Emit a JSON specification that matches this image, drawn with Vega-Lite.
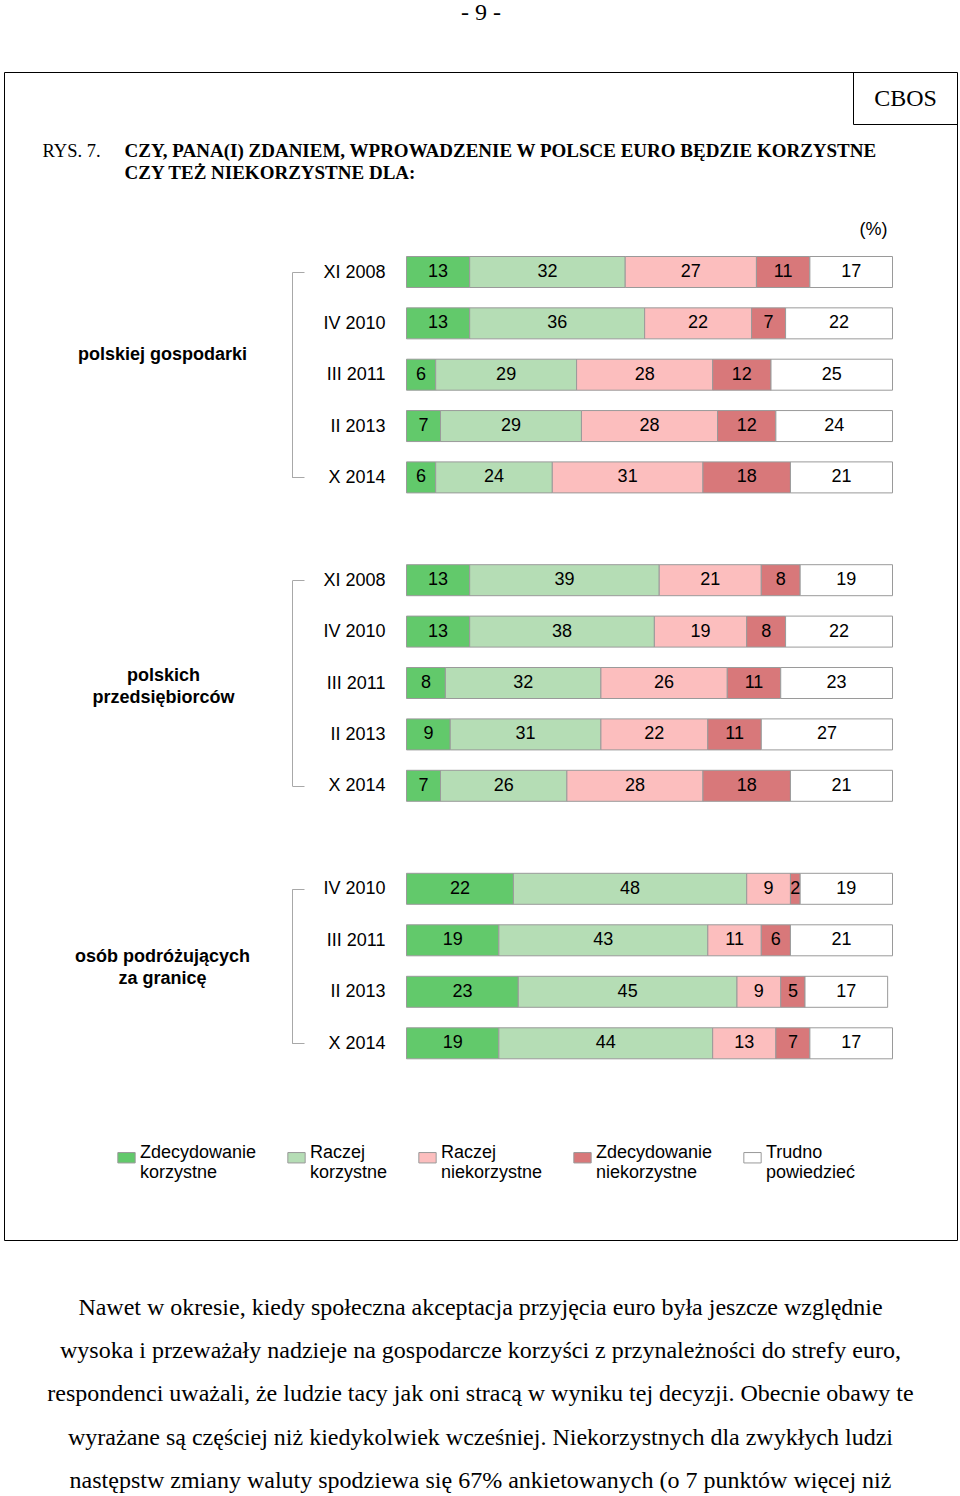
{
  "$schema": "https://vega.github.io/schema/vega-lite/v6.json",
  "width": 953,
  "height": 1168,
  "autosize": {"type": "none"},
  "padding": {"left": 4, "top": 72, "right": 3, "bottom": 256},
  "background": "white",
  "datasets": {
    "ankieta": [
      {"grupa": "polskiej gospodarki", "okres": "XI 2008", "1 Zdecydowanie korzystne": 13, "2 Raczej korzystne": 32, "3 Raczej niekorzystne": 27, "4 Zdecydowanie niekorzystne": 11, "5 Trudno powiedzieć": 17},
      {"grupa": "polskiej gospodarki", "okres": "IV 2010", "1 Zdecydowanie korzystne": 13, "2 Raczej korzystne": 36, "3 Raczej niekorzystne": 22, "4 Zdecydowanie niekorzystne": 7, "5 Trudno powiedzieć": 22},
      {"grupa": "polskiej gospodarki", "okres": "III 2011", "1 Zdecydowanie korzystne": 6, "2 Raczej korzystne": 29, "3 Raczej niekorzystne": 28, "4 Zdecydowanie niekorzystne": 12, "5 Trudno powiedzieć": 25},
      {"grupa": "polskiej gospodarki", "okres": "II 2013", "1 Zdecydowanie korzystne": 7, "2 Raczej korzystne": 29, "3 Raczej niekorzystne": 28, "4 Zdecydowanie niekorzystne": 12, "5 Trudno powiedzieć": 24},
      {"grupa": "polskiej gospodarki", "okres": "X 2014", "1 Zdecydowanie korzystne": 6, "2 Raczej korzystne": 24, "3 Raczej niekorzystne": 31, "4 Zdecydowanie niekorzystne": 18, "5 Trudno powiedzieć": 21},
      {"grupa": "polskich przedsiębiorców", "okres": "XI 2008", "1 Zdecydowanie korzystne": 13, "2 Raczej korzystne": 39, "3 Raczej niekorzystne": 21, "4 Zdecydowanie niekorzystne": 8, "5 Trudno powiedzieć": 19},
      {"grupa": "polskich przedsiębiorców", "okres": "IV 2010", "1 Zdecydowanie korzystne": 13, "2 Raczej korzystne": 38, "3 Raczej niekorzystne": 19, "4 Zdecydowanie niekorzystne": 8, "5 Trudno powiedzieć": 22},
      {"grupa": "polskich przedsiębiorców", "okres": "III 2011", "1 Zdecydowanie korzystne": 8, "2 Raczej korzystne": 32, "3 Raczej niekorzystne": 26, "4 Zdecydowanie niekorzystne": 11, "5 Trudno powiedzieć": 23},
      {"grupa": "polskich przedsiębiorców", "okres": "II 2013", "1 Zdecydowanie korzystne": 9, "2 Raczej korzystne": 31, "3 Raczej niekorzystne": 22, "4 Zdecydowanie niekorzystne": 11, "5 Trudno powiedzieć": 27},
      {"grupa": "polskich przedsiębiorców", "okres": "X 2014", "1 Zdecydowanie korzystne": 7, "2 Raczej korzystne": 26, "3 Raczej niekorzystne": 28, "4 Zdecydowanie niekorzystne": 18, "5 Trudno powiedzieć": 21},
      {"grupa": "osób podróżujących za granicę", "okres": "IV 2010", "1 Zdecydowanie korzystne": 22, "2 Raczej korzystne": 48, "3 Raczej niekorzystne": 9, "4 Zdecydowanie niekorzystne": 2, "5 Trudno powiedzieć": 19},
      {"grupa": "osób podróżujących za granicę", "okres": "III 2011", "1 Zdecydowanie korzystne": 19, "2 Raczej korzystne": 43, "3 Raczej niekorzystne": 11, "4 Zdecydowanie niekorzystne": 6, "5 Trudno powiedzieć": 21},
      {"grupa": "osób podróżujących za granicę", "okres": "II 2013", "1 Zdecydowanie korzystne": 23, "2 Raczej korzystne": 45, "3 Raczej niekorzystne": 9, "4 Zdecydowanie niekorzystne": 5, "5 Trudno powiedzieć": 17},
      {"grupa": "osób podróżujących za granicę", "okres": "X 2014", "1 Zdecydowanie korzystne": 19, "2 Raczej korzystne": 44, "3 Raczej niekorzystne": 13, "4 Zdecydowanie niekorzystne": 7, "5 Trudno powiedzieć": 17}
    ],
    "akapit": [
      {"nr": 1, "tekst": "\u00a0\u00a0\u00a0\u00a0\u00a0\u00a0\u00a0\u00a0Nawet w okresie, kiedy społeczna akceptacja przyjęcia euro była jeszcze względnie"},
      {"nr": 2, "tekst": "wysoka i przeważały nadzieje na gospodarcze korzyści z przynależności do strefy euro,"},
      {"nr": 3, "tekst": "respondenci uważali, że ludzie tacy jak oni stracą w wyniku tej decyzji. Obecnie obawy te"},
      {"nr": 4, "tekst": "wyrażane są częściej niż kiedykolwiek wcześniej. Niekorzystnych dla zwykłych ludzi"},
      {"nr": 5, "tekst": "następstw zmiany waluty spodziewa się 67% ankietowanych (o 7 punktów więcej niż"}
    ]
  },
  "layer": [
    {
      "data": {"name": "ankieta"},
      "transform": [
        {"filter": "datum.grupa === 'polskiej gospodarki'"},
        {"fold": ["1 Zdecydowanie korzystne", "2 Raczej korzystne", "3 Raczej niekorzystne", "4 Zdecydowanie niekorzystne", "5 Trudno powiedzieć"], "as": ["kategoria", "procent"]}
      ],
      "encoding": {
        "y": {"field": "okres", "type": "nominal", "sort": null,
          "scale": {"type": "point", "range": [200, 405.4], "padding": 0},
          "axis": {"orient": "left", "offset": -288, "domain": true, "domainColor": "#a8a8a8", "domainWidth": 1, "ticks": true, "tickSize": -12, "tickWidth": 1,
            "tickColor": {"condition": {"test": "datum.index == 0 || datum.index == 1", "value": "#a8a8a8"}, "value": "transparent"},
            "labels": true, "labelPadding": -81, "labelFont": "Liberation Sans", "labelFontSize": 18, "labelColor": "black", "labelAlign": "right", "labelBaseline": "middle",
            "title": "polskiej gospodarki", "titleFont": "Liberation Sans", "titleFontSize": 18, "titleFontWeight": "bold", "titleColor": "black", "titleAngle": 0, "titleAlign": "center", "titleBaseline": "middle", "titleX": -130, "titleY": 282, "titleLineHeight": 22}}
      },
      "layer": [
        {
          "mark": {"type": "bar", "height": 31, "stroke": "#9a9a9a", "strokeWidth": 1},
          "encoding": {
            "x": {"field": "procent", "type": "quantitative", "stack": "zero", "scale": {"domain": [-82.82, 113.27], "nice": false, "zero": false}, "axis": null},
            "order": {"field": "kategoria"},
            "color": {"field": "kategoria", "type": "nominal",
              "scale": {"domain": ["1 Zdecydowanie korzystne", "2 Raczej korzystne", "3 Raczej niekorzystne", "4 Zdecydowanie niekorzystne", "5 Trudno powiedzieć"], "range": ["#62c96b", "#b5ddb5", "#fcbebe", "#d8787a", "#ffffff"]},
              "legend": {"title": null, "orient": "none", "legendX": 113, "legendY": 1076, "direction": "horizontal", "columns": 5, "columnPadding": 28, "labelExpr": "slice(split(datum.label, ' '), 1)"}}
          }
        },
        {
          "mark": {"type": "text", "font": "Liberation Sans", "fontSize": 18, "color": "black", "align": "center", "baseline": "middle"},
          "encoding": {
            "x": {"field": "procent", "type": "quantitative", "stack": "zero", "bandPosition": 0.5, "scale": {"domain": [-82.82, 113.27], "nice": false, "zero": false}, "axis": null},
            "order": {"field": "kategoria"},
            "detail": {"field": "kategoria"},
            "text": {"field": "procent", "type": "quantitative"}
          }
        }
      ]
    },
    {
      "data": {"name": "ankieta"},
      "transform": [
        {"filter": "datum.grupa === 'polskich przedsiębiorców'"},
        {"fold": ["1 Zdecydowanie korzystne", "2 Raczej korzystne", "3 Raczej niekorzystne", "4 Zdecydowanie niekorzystne", "5 Trudno powiedzieć"], "as": ["kategoria", "procent"]}
      ],
      "encoding": {
        "y": {"field": "okres", "type": "nominal", "sort": null,
          "scale": {"type": "point", "range": [508.2, 713.8], "padding": 0},
          "axis": {"orient": "left", "offset": -288, "domain": true, "domainColor": "#a8a8a8", "domainWidth": 1, "ticks": true, "tickSize": -12, "tickWidth": 1,
            "tickColor": {"condition": {"test": "datum.index == 0 || datum.index == 1", "value": "#a8a8a8"}, "value": "transparent"},
            "labels": true, "labelPadding": -81, "labelFont": "Liberation Sans", "labelFontSize": 18, "labelColor": "black", "labelAlign": "right", "labelBaseline": "middle",
            "title": ["polskich", "przedsiębiorców"], "titleFont": "Liberation Sans", "titleFontSize": 18, "titleFontWeight": "bold", "titleColor": "black", "titleAngle": 0, "titleAlign": "center", "titleBaseline": "middle", "titleX": -129, "titleY": 603, "titleLineHeight": 22}}
      },
      "layer": [
        {
          "mark": {"type": "bar", "height": 31, "stroke": "#9a9a9a", "strokeWidth": 1},
          "encoding": {
            "x": {"field": "procent", "type": "quantitative", "stack": "zero", "scale": {"domain": [-82.82, 113.27], "nice": false, "zero": false}, "axis": null},
            "order": {"field": "kategoria"},
            "color": {"field": "kategoria", "type": "nominal",
              "scale": {"domain": ["1 Zdecydowanie korzystne", "2 Raczej korzystne", "3 Raczej niekorzystne", "4 Zdecydowanie niekorzystne", "5 Trudno powiedzieć"], "range": ["#62c96b", "#b5ddb5", "#fcbebe", "#d8787a", "#ffffff"]},
              "legend": {"title": null, "orient": "none", "legendX": 113, "legendY": 1076, "direction": "horizontal", "columns": 5, "columnPadding": 28, "labelExpr": "slice(split(datum.label, ' '), 1)"}}
          }
        },
        {
          "mark": {"type": "text", "font": "Liberation Sans", "fontSize": 18, "color": "black", "align": "center", "baseline": "middle"},
          "encoding": {
            "x": {"field": "procent", "type": "quantitative", "stack": "zero", "bandPosition": 0.5, "scale": {"domain": [-82.82, 113.27], "nice": false, "zero": false}, "axis": null},
            "order": {"field": "kategoria"},
            "detail": {"field": "kategoria"},
            "text": {"field": "procent", "type": "quantitative"}
          }
        }
      ]
    },
    {
      "data": {"name": "ankieta"},
      "transform": [
        {"filter": "datum.grupa === 'osób podróżujących za granicę'"},
        {"fold": ["1 Zdecydowanie korzystne", "2 Raczej korzystne", "3 Raczej niekorzystne", "4 Zdecydowanie niekorzystne", "5 Trudno powiedzieć"], "as": ["kategoria", "procent"]}
      ],
      "encoding": {
        "y": {"field": "okres", "type": "nominal", "sort": null,
          "scale": {"type": "point", "range": [816.8, 971.3], "padding": 0},
          "axis": {"orient": "left", "offset": -288, "domain": true, "domainColor": "#a8a8a8", "domainWidth": 1, "ticks": true, "tickSize": -12, "tickWidth": 1,
            "tickColor": {"condition": {"test": "datum.index == 0 || datum.index == 1", "value": "#a8a8a8"}, "value": "transparent"},
            "labels": true, "labelPadding": -81, "labelFont": "Liberation Sans", "labelFontSize": 18, "labelColor": "black", "labelAlign": "right", "labelBaseline": "middle",
            "title": ["osób podróżujących", "za granicę"], "titleFont": "Liberation Sans", "titleFontSize": 18, "titleFontWeight": "bold", "titleColor": "black", "titleAngle": 0, "titleAlign": "center", "titleBaseline": "middle", "titleX": -130, "titleY": 884, "titleLineHeight": 22}}
      },
      "layer": [
        {
          "mark": {"type": "bar", "height": 31, "stroke": "#9a9a9a", "strokeWidth": 1},
          "encoding": {
            "x": {"field": "procent", "type": "quantitative", "stack": "zero", "scale": {"domain": [-82.82, 113.27], "nice": false, "zero": false}, "axis": null},
            "order": {"field": "kategoria"},
            "color": {"field": "kategoria", "type": "nominal",
              "scale": {"domain": ["1 Zdecydowanie korzystne", "2 Raczej korzystne", "3 Raczej niekorzystne", "4 Zdecydowanie niekorzystne", "5 Trudno powiedzieć"], "range": ["#62c96b", "#b5ddb5", "#fcbebe", "#d8787a", "#ffffff"]},
              "legend": {"title": null, "orient": "none", "legendX": 113, "legendY": 1076, "direction": "horizontal", "columns": 5, "columnPadding": 28, "labelExpr": "slice(split(datum.label, ' '), 1)"}}
          }
        },
        {
          "mark": {"type": "text", "font": "Liberation Sans", "fontSize": 18, "color": "black", "align": "center", "baseline": "middle"},
          "encoding": {
            "x": {"field": "procent", "type": "quantitative", "stack": "zero", "bandPosition": 0.5, "scale": {"domain": [-82.82, 113.27], "nice": false, "zero": false}, "axis": null},
            "order": {"field": "kategoria"},
            "detail": {"field": "kategoria"},
            "text": {"field": "procent", "type": "quantitative"}
          }
        }
      ]
    },
    {
      "data": {"name": "akapit"},
      "mark": {"type": "text", "font": "Liberation Serif", "fontSize": 24, "color": "black", "align": "center", "baseline": "alphabetic"},
      "encoding": {
        "y": {"field": "nr", "type": "ordinal",
          "scale": {"type": "point", "range": [1243, 1415.8], "padding": 0},
          "axis": null},
        "text": {"field": "tekst"}
      }
    },
    {
      "data": {"name": "akapit"},
      "transform": [{"filter": "false"}],
      "mark": {"type": "text"},
      "encoding": {
        "y": {"field": "nr", "type": "quantitative", "scale": {"domain": [0, 1], "range": [0, 50]},
          "axis": {"orient": "left", "domain": false, "ticks": false, "labels": false,
            "title": "- 9 -", "titleFont": "Liberation Serif", "titleFontSize": 24, "titleFontWeight": "normal", "titleColor": "black", "titleAngle": 0, "titleAlign": "center", "titleBaseline": "alphabetic", "titleX": 476.5, "titleY": -53}},
        "text": {"field": "tekst"}
      }
    },
    {
      "data": {"name": "akapit"},
      "transform": [{"filter": "false"}],
      "mark": {"type": "text"},
      "encoding": {
        "y": {"field": "nr", "type": "quantitative", "scale": {"domain": [0, 1], "range": [0, 78]},
          "axis": {"orient": "left", "domain": false, "ticks": false, "labels": false,
            "title": "RYS. 7.", "titleFont": "Liberation Serif", "titleFontSize": 18.5, "titleFontWeight": "normal", "titleColor": "black", "titleAngle": 0, "titleAlign": "left", "titleBaseline": "middle", "titleX": 38, "titleY": 78}},
        "text": {"field": "tekst"}
      }
    },
    {
      "data": {"name": "akapit"},
      "transform": [{"filter": "false"}],
      "mark": {"type": "text"},
      "encoding": {
        "y": {"field": "nr", "type": "quantitative", "scale": {"domain": [0, 1], "range": [0, 89]},
          "axis": {"orient": "left", "domain": false, "ticks": false, "labels": false,
            "title": ["CZY, PANA(I) ZDANIEM, WPROWADZENIE W POLSCE EURO BĘDZIE KORZYSTNE", "CZY TEŻ NIEKORZYSTNE DLA:"], "titleFont": "Liberation Serif", "titleFontSize": 19, "titleFontWeight": "bold", "titleColor": "black", "titleAngle": 0, "titleAlign": "left", "titleBaseline": "middle", "titleX": 120, "titleY": 78, "titleLineHeight": 22, "titleLimit": 1000}},
        "text": {"field": "tekst"}
      }
    },
    {
      "data": {"name": "akapit"},
      "transform": [{"filter": "false"}],
      "mark": {"type": "text"},
      "encoding": {
        "y": {"field": "nr", "type": "quantitative", "scale": {"domain": [0, 1], "range": [0, 157]},
          "axis": {"orient": "right", "domain": false, "ticks": false, "labels": false,
            "title": "(%)", "titleFont": "Liberation Sans", "titleFontSize": 18, "titleFontWeight": "normal", "titleColor": "black", "titleAngle": 0, "titleAlign": "right", "titleBaseline": "middle", "titleX": -70, "titleY": 157}},
        "text": {"field": "tekst"}
      }
    },
    {
      "data": {"name": "akapit"},
      "transform": [{"filter": "false"}],
      "mark": {"type": "text"},
      "encoding": {
        "y": {"field": "nr", "type": "quantitative", "scale": {"domain": [0, 1], "range": [0, 52]},
          "axis": {"orient": "right", "offset": -104, "domain": true, "domainColor": "black", "domainWidth": 1, "ticks": true, "values": [1], "tickSize": 104, "tickColor": "black", "tickWidth": 1, "labels": false, "grid": false,
            "title": "CBOS", "titleFont": "Liberation Serif", "titleFontSize": 24, "titleFontWeight": "normal", "titleColor": "black", "titleAngle": 0, "titleAlign": "center", "titleBaseline": "middle", "titleX": 52, "titleY": 26}},
        "text": {"field": "tekst"}
      }
    }
  ],
  "resolve": {"scale": {"y": "independent"}, "axis": {"y": "independent"}},
  "config": {
    "view": {"stroke": "black", "strokeWidth": 1},
    "axis": {"grid": false},
    "legend": {"padding": 0, "labelFont": "Liberation Sans", "labelFontSize": 18, "labelColor": "black", "labelLimit": 300, "labelOffset": 4, "labelBaseline": "alphabetic", "symbolType": "M-1,-0.6H1V0.6H-1Z", "symbolSize": 300, "symbolStrokeColor": "#999999", "symbolStrokeWidth": 1, "rowPadding": 0}
  }
}
